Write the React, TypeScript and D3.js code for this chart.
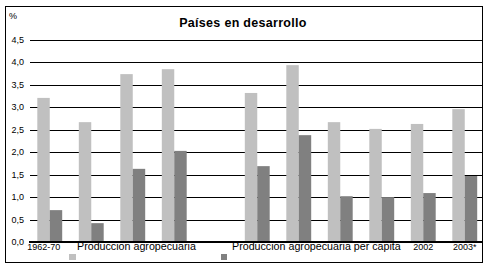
import React from "react";
import * as d3 from "d3";

const categories = ["1962-70", "1971-80", "1981-90", "1991-2000", "", "1998", "1999", "2000", "2001", "2002", "2003*"];
const visibleLabels = ["1962-70", "", "", "", "", "", "", "", "", "2002", "2003*"];
const seriesNames = ["Produccion agropecuaria", "Produccion agropecuaria per capita"];
const produccion: (number | null)[] = [3.21, 2.67, 3.74, 3.85, null, 3.32, 3.94, 2.67, 2.52, 2.63, 2.96];
const perCapita: (number | null)[] = [0.71, 0.42, 1.63, 2.03, null, 1.69, 2.38, 1.02, 1.0, 1.09, 1.47];
const yTicks = [0, 0.5, 1, 1.5, 2, 2.5, 3, 3.5, 4, 4.5];
const colors = ["#c0c0c0", "#808080"];

export default function App() {
  const W = 492, H = 278;
  const x0 = d3.scaleBand<string>().domain(categories.map((_, i) => String(i))).range([29, 485.5]).paddingInner(0.4).paddingOuter(0.2);
  const x1 = d3.scaleBand<string>().domain(["0", "1"]).range([0, x0.bandwidth()]);
  const y = d3.scaleLinear().domain([0, 4.5]).range([242, 40]);
  const series = [produccion, perCapita];
  const fmt = (v: number) => v.toFixed(1).replace(".", ",");
  const font = "Arial, 'Liberation Sans', sans-serif";
  return (
    <svg width={W} height={H} style={{ position: "absolute", left: 0, top: 0, background: "#fff" }} fontFamily={font}>
      <rect x={5.5} y={6.5} width={477} height={256} fill="#fff" stroke="#000" strokeWidth={1} />
      <text x={243} y={27} textAnchor="middle" fontSize={12.5} fontWeight="bold" letterSpacing={0.3}>Países en desarrollo</text>
      <text x={9} y={19} fontSize={9}>%</text>
      {yTicks.map((t) => (
        <g key={t}>
          {t > 0 && <line x1={30} x2={482} y1={Math.round(y(t)) + 0.5} y2={Math.round(y(t)) + 0.5} stroke="#000" strokeWidth={1} />}
          <text x={24} y={y(t) + 3} textAnchor="end" fontSize={9}>{fmt(t)}</text>
        </g>
      ))}
      {series.map((vals, si) =>
        vals.map((v, i) =>
          v == null ? null : (
            <rect key={`${si}-${i}`} x={(x0(String(i)) as number) + (x1(String(si)) as number)} y={y(v)} width={x1.bandwidth()} height={y(0) - y(v)} fill={colors[si]} />
          )
        )
      )}
      <line x1={29} x2={482} y1={242} y2={242} stroke="#000" strokeWidth={2} />
      {visibleLabels.map((l, i) => l ? (
        <text key={i} x={(x0(String(i)) as number) + x0.bandwidth() / 2 - (i === 0 ? 6 : 0)} y={250} textAnchor="middle" fontSize={9}>{l}</text>
      ) : null)}
      <text x={77} y={250} fontSize={10.7}>{seriesNames[0]}</text>
      <text x={232} y={250} fontSize={10.7}>{seriesNames[1]}</text>
      <rect x={69} y={254} width={7} height={6} fill={colors[0]} />
      <rect x={221} y={254} width={6} height={6} fill={colors[1]} />
    </svg>
  );
}
